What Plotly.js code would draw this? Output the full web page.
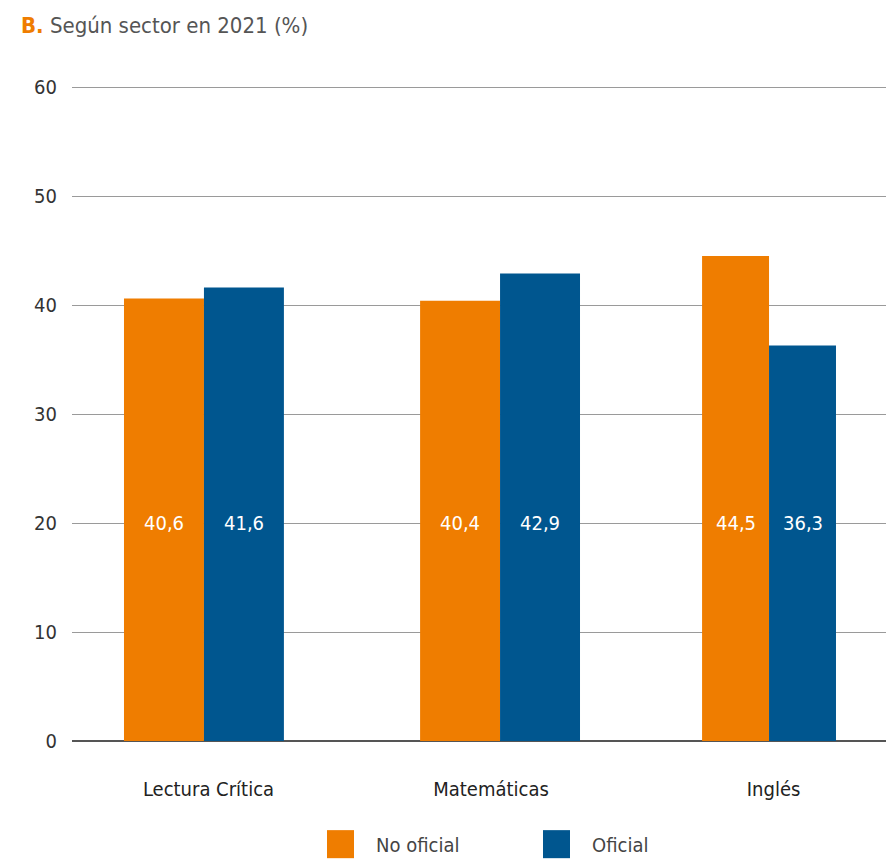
<!DOCTYPE html>
<html><head><meta charset="utf-8">
<script src="https://cdn.plot.ly/plotly-3.0.1.min.js"></script>
<style>body{margin:0;background:#fff}#chart{width:887px;height:859px}</style>
</head><body><div id="chart"></div>
<script>
const categories = ["Lectura Crítica", "Matemáticas", "Inglés"];
const seriesNames = ["No oficial", "Oficial"];
const noOficial = [40.6, 40.4, 44.5];
const oficial = [41.6, 42.9, 36.3];
const yTicks = [0, 10, 20, 30, 40, 50, 60];

const FONT = '"Liberation Sans Narrow", "DejaVu Sans Condensed", "Roboto", sans-serif';
const ORANGE = '#EF7D00', BLUE = '#00568F';
const widths = [0.283, 0.283, 0.237];
const shifts = [-0.016, 0.032, -0.016];

const traces = [
  {type:'bar', name:seriesNames[0], x:categories, y:noOficial,
   width:widths, offset:widths.map((w,i)=>shifts[i]-w),
   marker:{color:ORANGE}, hoverinfo:'skip'},
  {type:'bar', name:seriesNames[1], x:categories, y:oficial,
   width:widths, offset:shifts.slice(),
   marker:{color:BLUE}, hoverinfo:'skip'}
];

const fmt = v => v.toFixed(1).replace('.', ',');
const annotations = [];
categories.forEach((c,i)=>{
  annotations.push({x:i+shifts[i]-widths[i]/2, y:20, xref:'x', yref:'y', text:fmt(noOficial[i]),
    showarrow:false, font:{family:FONT, size:20, color:'#fff'}});
  annotations.push({x:i+shifts[i]+widths[i]/2, y:20, xref:'x', yref:'y', text:fmt(oficial[i]),
    showarrow:false, font:{family:FONT, size:20, color:'#fff'}});
});
// custom legend
const legendX = [327, 543];
const legendColors = [ORANGE, BLUE];
const shapes = [];
seriesNames.forEach((n,i)=>{
  shapes.push({type:'rect', xref:'paper', yref:'paper',
    x0:(legendX[i]-72)/814, x1:(legendX[i]+27-72)/814,
    y0:-(858-741)/654, y1:-(830-741)/654,
    fillcolor:legendColors[i], line:{width:0}});
  annotations.push({xref:'paper', yref:'paper', x:(legendX[i]+47-72)/814, y:-(845-741)/654,
    xanchor:'left', yanchor:'middle', text:n, showarrow:false,
    font:{family:FONT, size:20, color:'#444'}});
});

annotations.push({xref:'paper', yref:'paper', x:(19-72)/814, y:(741-27)/654, xanchor:'left', yanchor:'middle',
  text:'<b><span style="color:'+ORANGE+'">B.</span></b> Según sector en 2021 (%)', showarrow:false,
  font:{family:FONT, size:22, color:'#555'}});

const layout = {
  width:887, height:859,
  margin:{l:72, r:1, t:86, b:118},
  paper_bgcolor:'#fff', plot_bgcolor:'#fff',
  showlegend:false,
  barmode:'group',
  font:{family:FONT, color:'#333'},
  xaxis:{type:'category', range:[-0.483, 2.398], showgrid:false, showline:false, zeroline:false,
    ticks:'', tickfont:{family:FONT, size:20, color:'#222'}, ticklabelstandoff:34, fixedrange:true},
  yaxis:{range:[0,60.1], tickvals:yTicks, showgrid:true, gridcolor:'#9a9a9a', gridwidth:1,
    zeroline:true, zerolinecolor:'#555', zerolinewidth:2, showline:false, ticks:'',
    tickfont:{family:FONT, size:20, color:'#333'}, ticklabelstandoff:14, fixedrange:true},
  shapes:shapes,
  annotations:annotations
};
Plotly.newPlot('chart', traces, layout, {displayModeBar:false, staticPlot:true});
</script></body></html>
